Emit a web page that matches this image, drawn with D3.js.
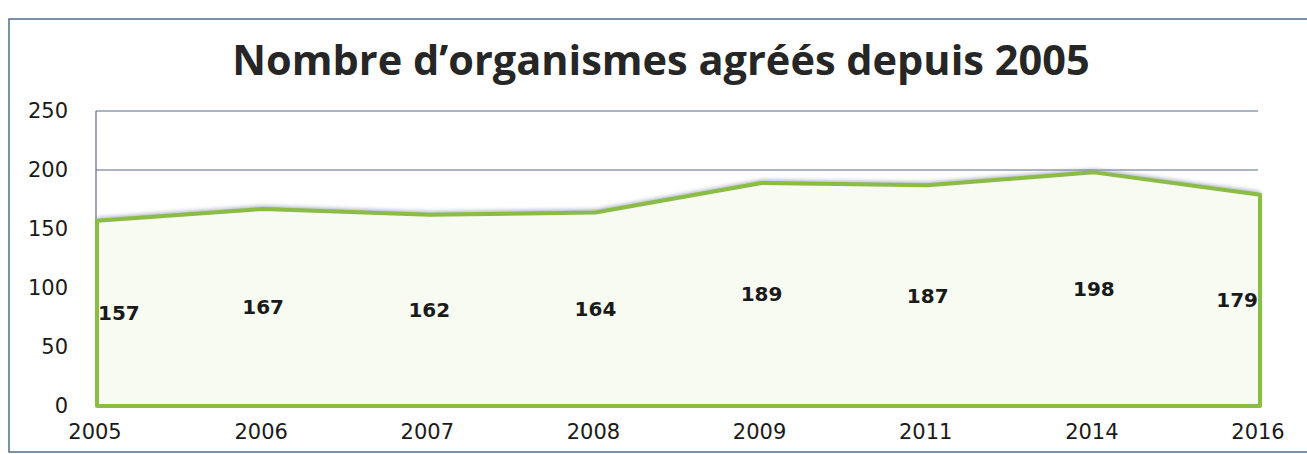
<!DOCTYPE html>
<html>
<head>
<meta charset="utf-8">
<script src="https://cdn.jsdelivr.net/npm/d3@7"></script>
<style>
  body { margin: 0; background: #fff; }
  svg { display: block; }
</style>
</head>
<body>
<div id="chart"></div>
<script>
var years = ["2005", "2006", "2007", "2008", "2009", "2011", "2014", "2016"];
var counts = [157, 167, 162, 164, 189, 187, 198, 179];
var yTicks = [0, 50, 100, 150, 200, 250];
var title = "Nombre d\u2019organismes agréés depuis 2005";

var svgWidth = 1307;
var svgHeight = 454;

var data = years.map(function(y, i) { return { year: y, value: counts[i] }; });

var svg = d3.select("#chart")
  .append("svg")
  .attr("width", svgWidth)
  .attr("height", svgHeight);

// drop shadow above the line
var defs = svg.append("defs");
var filter = defs.append("filter")
  .attr("id", "shadow")
  .attr("x", "-5%").attr("y", "-20%")
  .attr("width", "110%").attr("height", "140%");
filter.append("feDropShadow")
  .attr("dx", 0)
  .attr("dy", -3)
  .attr("stdDeviation", 2)
  .attr("flood-color", "#7d88a8")
  .attr("flood-opacity", 0.7);

// outer frame
svg.append("rect")
  .attr("x", 9)
  .attr("y", 19)
  .attr("width", 1400)
  .attr("height", 433)
  .attr("fill", "none")
  .attr("stroke", "#4f6d8c")
  .attr("stroke-width", 1.5);

var x = d3.scalePoint()
  .domain(years)
  .range([97, 1260]);

var y = d3.scaleLinear()
  .domain([0, 250])
  .range([406, 111]);

// gridlines
svg.append("g")
  .selectAll("line")
  .data(yTicks.filter(function(d) { return d > 0; }))
  .enter()
  .append("line")
  .attr("x1", 96)
  .attr("x2", 1258)
  .attr("y1", d => y(d))
  .attr("y2", d => y(d))
  .attr("stroke", "#5b6b88")
  .attr("stroke-width", 1.2);

// left axis line
svg.append("line")
  .attr("x1", 96).attr("x2", 96)
  .attr("y1", y(250)).attr("y2", y(0))
  .attr("stroke", "#5b6b88")
  .attr("stroke-width", 1.2);

// area
var area = d3.area()
  .x(d => x(d.year))
  .y0(y(0))
  .y1(d => y(d.value));

var pts = [{ year: years[0], value: 0 }].concat(data).concat([{ year: years[years.length - 1], value: 0 }]);
var outline = d3.line()
  .x(d => x(d.year))
  .y(d => y(d.value));

svg.append("path")
  .datum(data)
  .attr("d", area)
  .attr("fill", "#f8fbf1")
  .attr("filter", "url(#shadow)");

svg.append("path")
  .datum(pts)
  .attr("d", d => outline(d) + "Z")
  .attr("fill", "none")
  .attr("stroke", "#8bbd45")
  .attr("stroke-width", 4)
  .attr("stroke-linejoin", "round");

// y tick labels
svg.append("g")
  .selectAll("text")
  .data(yTicks)
  .enter()
  .append("text")
  .attr("x", 68)
  .attr("y", d => y(d))
  .attr("dy", "0.35em")
  .attr("text-anchor", "end")
  .attr("font-family", "DejaVu Sans")
  .attr("font-size", "21px")
  .attr("fill", "#1a1a1a")
  .text(d => d);

// x tick labels
svg.append("g")
  .selectAll("text")
  .data(years)
  .enter()
  .append("text")
  .attr("x", d => x(d) - 2)
  .attr("y", 432)
  .attr("dy", "0.35em")
  .attr("text-anchor", "middle")
  .attr("font-family", "DejaVu Sans")
  .attr("font-size", "21px")
  .attr("fill", "#1a1a1a")
  .text(d => d);

// value labels, centred at half height
svg.append("g")
  .selectAll("text")
  .data(data)
  .enter()
  .append("text")
  .attr("x", function(d, i) {
    if (i === 0) return x(d.year) + 1;
    if (i === data.length - 1) return x(d.year) - 2;
    return x(d.year);
  })
  .attr("y", d => y(d.value / 2))
  .attr("dy", "0.35em")
  .attr("text-anchor", function(d, i) {
    if (i === 0) return "start";
    if (i === data.length - 1) return "end";
    return "middle";
  })
  .attr("font-family", "DejaVu Sans")
  .attr("font-weight", "bold")
  .attr("font-size", "20px")
  .attr("fill", "#1a1a1a")
  .text(d => d.value);

// title
var t = svg.append("text")
  .attr("x", 661)
  .attr("y", 75)
  .attr("text-anchor", "middle")
  .attr("font-family", "Open Sans")
  .attr("font-weight", "bold")
  .attr("font-size", "34px")
  .attr("fill", "#262626")
  .text(title);
var w = t.node().getComputedTextLength();
t.attr("font-size", (34 * 858 / w).toFixed(1) + "px");
</script>
</body>
</html>
